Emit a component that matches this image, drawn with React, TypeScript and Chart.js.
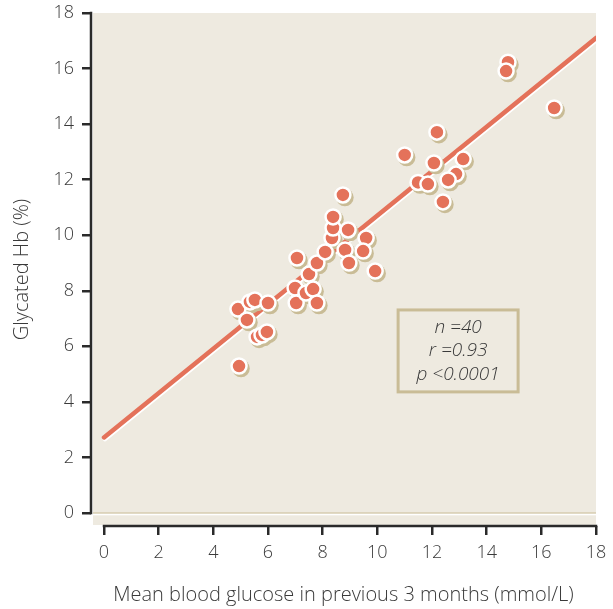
import { useEffect, useRef } from 'react';
import { Chart, registerables } from 'chart.js';

Chart.register(...registerables);

// Mean blood glucose (mmol/L)
const glucose = [
  4.9, 4.94, 5.34, 5.52, 5.23, 5.6, 5.78, 5.96, 6.0,
  7.06, 6.99, 7.03, 7.39, 7.5, 7.65, 7.79, 7.79,
  8.09, 8.34, 8.38, 8.38, 8.74, 8.82, 8.93, 8.96, 9.59, 9.48, 9.92,
  11.0, 12.18, 12.07, 13.14, 11.49, 11.85, 12.88, 12.59, 12.4,
  14.78, 14.71, 16.47,
];
// Glycated Hb (%)
const hba1c = [
  7.34, 5.29, 7.6, 7.67, 6.95, 6.34, 6.41, 6.52, 7.56,
  9.18, 8.1, 7.56, 7.92, 8.6, 8.06, 9.0, 7.56,
  9.4, 9.9, 10.26, 10.66, 11.45, 9.47, 10.19, 9.0, 9.9, 9.43, 8.71,
  12.89, 13.71, 12.6, 12.74, 11.9, 11.84, 12.2, 11.99, 11.2,
  16.23, 15.91, 14.58,
];
const fitX = [0, 18];
const fitY = [2.72, 17.1];
const xTicks = [0, 2, 4, 6, 8, 10, 12, 14, 16, 18];
const yTicks = [0, 2, 4, 6, 8, 10, 12, 14, 16, 18];
const statLines = ['n =40', 'r =0.93', 'p <0.0001'];
const statBoxX = [10.76, 15.15];
const statBoxY = [7.31, 4.36];

const BG = '#EEEAE0';
const RED = '#E4725A';
const TAN = '#C9BC96';
const AXIS = '#2a2a2a';
const FONT = '"Open Sans", "Noto Sans", sans-serif';

export default function App() {
  const ref = useRef<HTMLCanvasElement>(null);

  useEffect(() => {
    document.body.style.margin = '0';
    const canvas = ref.current!;
    const points = glucose.map((g, i) => ({ x: g, y: hba1c[i] }));
    const fit = fitX.map((x, i) => ({ x, y: fitY[i] }));

    const decor = {
      id: 'decor',
      beforeDraw(chart: any) {
        const { ctx, chartArea: a } = chart;
        ctx.save();
        ctx.fillStyle = '#ffffff';
        ctx.fillRect(0, 0, chart.width, chart.height);
        ctx.fillStyle = BG;
        ctx.fillRect(a.left + 2, a.top, a.right - (a.left + 2), a.bottom - 1 - a.top);
        const ys = chart.scales.y;
        const y0 = ys.getPixelForValue(0);
        ctx.fillStyle = TAN;
        ctx.fillRect(a.left + 2, y0 - 0.5, a.right - a.left - 2, 1.2);
        ctx.fillStyle = '#ffffff';
        ctx.fillRect(a.left + 2, y0 + 0.7, a.right - a.left - 2, 1.6);
        ctx.restore();
      },
      beforeDatasetsDraw(chart: any) {
        const { ctx } = chart;
        const xs = chart.scales.x;
        const ys = chart.scales.y;
        const l = xs.getPixelForValue(statBoxX[0]);
        const r = xs.getPixelForValue(statBoxX[1]);
        const t = ys.getPixelForValue(statBoxY[0]);
        const b = ys.getPixelForValue(statBoxY[1]);
        ctx.save();
        ctx.strokeStyle = TAN;
        ctx.lineWidth = 3;
        ctx.strokeRect(l, t, r - l, b - t);
        ctx.fillStyle = '#3a3a3a';
        ctx.font = `italic 300 19px ${FONT}`;
        ctx.textAlign = 'center';
        ctx.textBaseline = 'middle';
        const cx = (l + r) / 2;
        const step = (b - t) / (statLines.length + 0.55);
        statLines.forEach((s, i) => {
          ctx.fillText(s, cx, t + step * (i + 0.78));
        });
        ctx.restore();
      },
      beforeDatasetDraw(chart: any, args: any) {
        const { ctx } = chart;
        ctx.save();
        if (args.index === 2) {
          ctx.shadowColor = '#ffffff';
          ctx.shadowOffsetX = 1;
          ctx.shadowOffsetY = 1.6;
          ctx.shadowBlur = 0;
        } else if (args.index === 1) {
          ctx.translate(2, 2.5);
        }
      },
      afterDatasetDraw(chart: any) {
        chart.ctx.restore();
      },
      afterDraw(chart: any) {
        const { ctx, chartArea: a } = chart;
        const xs = chart.scales.x;
        const ys = chart.scales.y;
        ctx.save();
        ctx.strokeStyle = AXIS;
        ctx.lineWidth = 2.5;
        ctx.beginPath();
        ctx.moveTo(a.left, ys.getPixelForValue(18) - 1.25);
        ctx.lineTo(a.left, ys.getPixelForValue(0) + 1.25);
        ctx.moveTo(xs.getPixelForValue(0) - 1.25, a.bottom);
        ctx.lineTo(xs.getPixelForValue(18) + 1.25, a.bottom);
        ctx.stroke();
        ctx.restore();
      },
    };

    const tickFont = { family: FONT, size: 18, weight: '300' as any };

    const chart = new Chart(canvas, {
      type: 'scatter',
      data: {
        datasets: [
          {
            data: points,
            backgroundColor: RED,
            borderColor: '#ffffff',
            borderWidth: 2.5,
            pointRadius: 7.5,
          },
          {
            data: points,
            backgroundColor: TAN,
            borderWidth: 0,
            pointRadius: 8.75,
          },
          {
            type: 'line',
            data: fit,
            borderColor: RED,
            borderWidth: 4.5,
            borderCapStyle: 'round',
            pointRadius: 0,
            fill: false,
            tension: 0,
          } as any,
        ],
      },
      options: {
        animation: false,
        responsive: false,
        devicePixelRatio: 1,
        layout: { padding: { top: 13, right: 17, left: 0, bottom: 0 } },
        plugins: { legend: { display: false }, tooltip: { enabled: false } },
        scales: {
          x: {
            type: 'linear',
            min: -0.476,
            max: 18,
            afterBuildTicks: (s: any) => {
              s.ticks = xTicks.map((v) => ({ value: v }));
            },
            afterFit: (s: any) => {
              s.height = 83;
              s.paddingLeft = 0;
              s.paddingRight = 0;
            },
            border: { display: false },
            grid: {
              drawOnChartArea: false,
              drawTicks: true,
              tickLength: 9,
              lineWidth: 2.5,
              color: AXIS,
            },
            ticks: { font: tickFont, color: '#3a3a3a', padding: 7, maxRotation: 0 },
            title: {
              display: true,
              text: 'Mean blood glucose in previous 3 months (mmol/L)',
              font: { family: FONT, size: 20, weight: '300' as any },
              color: '#3a3a3a',
              padding: { top: 0, bottom: 2 },
            },
          },
          y: {
            type: 'linear',
            min: -0.468,
            max: 18,
            afterBuildTicks: (s: any) => {
              s.ticks = yTicks.map((v) => ({ value: v }));
            },
            afterFit: (s: any) => {
              s.width = 91;
              s.paddingTop = 0;
              s.paddingBottom = 0;
            },
            border: { display: false },
            grid: {
              drawOnChartArea: false,
              drawTicks: true,
              tickLength: 9,
              lineWidth: 2.5,
              color: AXIS,
            },
            ticks: { font: tickFont, color: '#3a3a3a', padding: 8 },
            title: {
              display: true,
              text: 'Glycated Hb (%)',
              font: { family: FONT, size: 20, weight: '300' as any },
              color: '#3a3a3a',
              padding: { top: 10, bottom: 0 },
            },
          },
        },
      },
      plugins: [decor],
    });
    return () => chart.destroy();
  }, []);

  return (
    <div style={{ position: 'absolute', left: 0, top: 0, width: 613, height: 609 }}>
      <canvas ref={ref} width={613} height={609} />
    </div>
  );
}
